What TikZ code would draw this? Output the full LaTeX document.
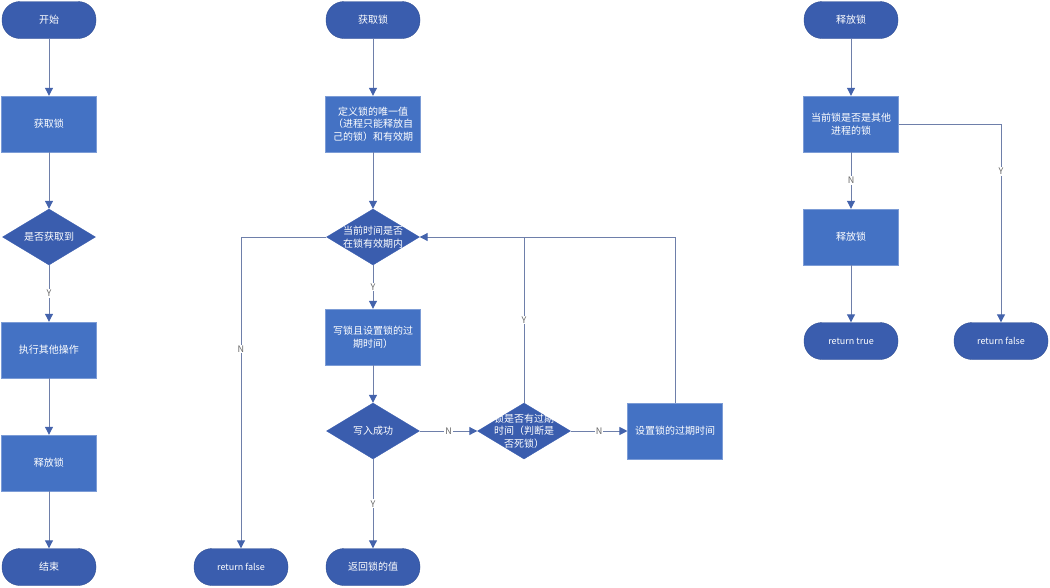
\documentclass[tikz,border=0pt]{standalone}
\usepackage{fontspec}
\newfontfamily\cjk{Noto Sans CJK SC}
\usetikzlibrary{shapes.geometric,arrows.meta}
\definecolor{boxblue}{HTML}{4472C4}
\definecolor{darkblue}{HTML}{3A5DAE}
\definecolor{linegray}{HTML}{6E7FAA}
\definecolor{tipblue}{HTML}{4463AC}
\begin{document}
\begin{tikzpicture}[x=1pt,y=-1pt,>={Triangle[width=8pt,length=8pt,color=tipblue]},
    every node/.style={font=\cjk\fontsize{10}{12.5}\selectfont,text=white,align=center},
    term/.style={rectangle,rounded corners=18pt,fill=darkblue,draw=darkblue!85!black,minimum width=94pt,minimum height=37pt},
    proc/.style={rectangle,fill=boxblue,draw=boxblue!70!white,minimum width=93pt,minimum height=56pt,text width=88pt},
    dec/.style={diamond,fill=darkblue,draw=darkblue,minimum width=93pt,minimum height=56pt,inner sep=0pt},
    lab/.style={fill=white,text=black!60,inner sep=1pt,font=\cjk\fontsize{9}{9}\selectfont},
    eng/.style={font=\cjk\fontsize{9}{11}\selectfont},
    line/.style={draw=linegray,line width=1pt}]
    \useasboundingbox(0,0)rectangle(1050,587);
    \node[term](start1)at(49,20){开始};
    \node[proc](get1)at(49,124){获取锁};
    \node[dec,label={center:是否获取到}](ask1)at(49,237){};
    \node[proc](run1)at(49,350){执行其他操作};
    \node[proc](free1)at(49,463){释放锁};
    \node[term](end1)at(49,567){结束};
    \draw[line,->](start1)--(get1);
    \draw[line,->](get1)--(ask1);
    \draw[line,->](ask1)--node[lab]{Y}(run1);
    \draw[line,->](run1)--(free1);
    \draw[line,->](free1)--(end1);
    \node[term](start2)at(373,20){获取锁};
    \node[proc](def2)at(373,124){定义锁的唯一值\\（进程只能释放自\\己的锁）和有效期};
    \node[dec,label={center:当前时间是否\\在锁有效期内}](chk2)at(373,237){};
    \node[proc](write2)at(373,337){写锁且设置锁的过\\期时间）};
    \node[dec,label={center:写入成功}](ok2)at(373,431){};
    \node[dec,label={center:锁是否有过期\\时间（判断是\\否死锁）}](exp2)at(524,431){};
    \node[proc](set2)at(675,431){设置锁的过期时间};
    \node[term](ret2)at(373,567){返回锁的值};
    \node[term,eng](retf2)at(241,567){return false};
    \draw[line,->](start2)--(def2);
    \draw[line,->](def2)--(chk2);
    \draw[line,->](chk2)--node[lab]{Y}(write2);
    \draw[line,->](write2)--(ok2);
    \draw[line,->](ok2)--node[lab]{Y}(ret2);
    \draw[line,->](ok2)--node[lab]{N}(exp2);
    \draw[line,->](exp2)--node[lab]{N}(set2);
    \draw[line](exp2.north)--node[lab]{Y}(exp2.north|-chk2.east);
    \draw[line,->](set2.north)|-(chk2.east);
    \draw[line,->](chk2.west)-|node[lab,pos=.68]{N}(retf2);
    \node[term](start3)at(851,20){释放锁};
    \node[proc](who3)at(851,124){当前锁是否是其他\\进程的锁};
    \node[proc](free3)at(851,237){释放锁};
    \node[term,eng](rett3)at(851,341){return true};
    \node[term,eng](retf3)at(1001,341){return false};
    \draw[line,->](start3)--(who3);
    \draw[line,->](who3)--node[lab]{N}(free3);
    \draw[line,->](free3)--(rett3);
    \draw[line,->](who3.east)-|node[lab,pos=.62]{Y}(retf3);
\end{tikzpicture}
\end{document}
